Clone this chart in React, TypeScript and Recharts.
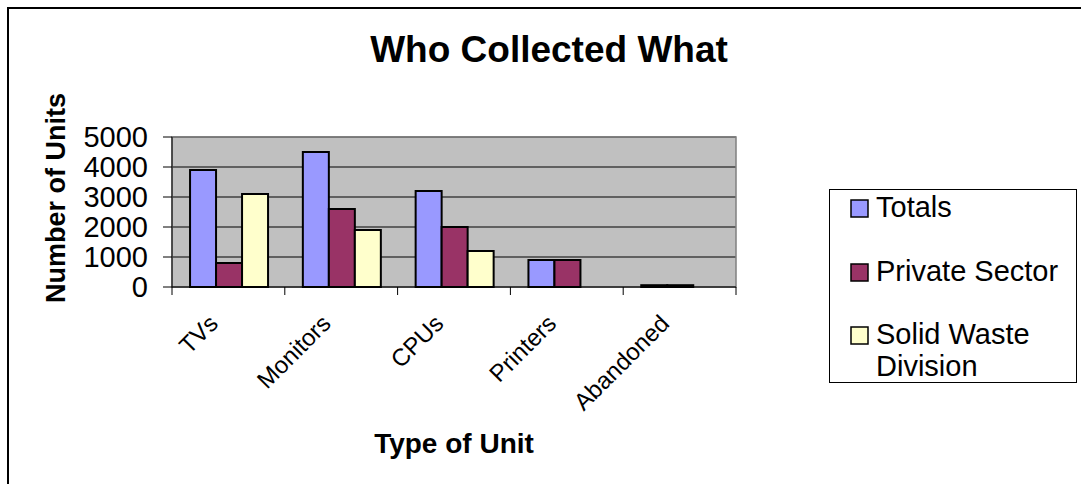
import React from 'react';
import { BarChart, Bar, XAxis, YAxis, CartesianGrid, Legend, ReferenceArea } from 'recharts';

const CATEGORIES = ['TVs', 'Monitors', 'CPUs', 'Printers', 'Abandoned'];
const TOTALS = [3900, 4500, 3200, 900, 60];
const PRIVATE_SECTOR = [800, 2600, 2000, 900, 60];
const SOLID_WASTE = [3100, 1900, 1200, 0, 0];
const Y_TICKS = [0, 1000, 2000, 3000, 4000, 5000];

const SERIES = [
  { key: 'totals', name: 'Totals', color: '#9999FF' },
  { key: 'privateSector', name: 'Private Sector', color: '#993366' },
  { key: 'solidWaste', name: 'Solid Waste Division', color: '#FFFFCC' },
];

const data = CATEGORIES.map((c, i) => ({
  category: c,
  totals: TOTALS[i],
  privateSector: PRIVATE_SECTOR[i],
  solidWaste: SOLID_WASTE[i],
}));

const FONT = '"Liberation Sans", Arial, sans-serif';
const W = 1081;
const H = 484;
const MARGIN = { top: 137, right: 345, left: 92, bottom: 97 };
const Y_AXIS_W = 80;
const X_AXIS_H = 100;
const PLOT_W = W - MARGIN.left - MARGIN.right - Y_AXIS_W;
const BAND = PLOT_W / CATEGORIES.length;

const XTick = (props: any) => {
  const { x, y, payload, index } = props;
  const half = BAND / 2;
  const ax = x - 9;
  const ay = y + 38;
  return (
    <g>
      <line x1={x - half} y1={y} x2={x - half} y2={y + 8} stroke="#000" strokeWidth={1} />
      {index === CATEGORIES.length - 1 && (
        <line x1={x + half} y1={y} x2={x + half} y2={y + 8} stroke="#000" strokeWidth={1} />
      )}
      <text
        x={ax}
        y={ay}
        textAnchor="end"
        transform={`rotate(-45, ${ax}, ${ay})`}
        fontFamily={FONT}
        fontSize={24}
        fill="#000"
      >
        {payload.value}
      </text>
    </g>
  );
};

const YTick = (props: any) => {
  const { y, payload } = props;
  return (
    <text x={148} y={y} dy="0.36em" textAnchor="end" fontFamily={FONT} fontSize={29} fill="#000">
      {payload.value}
    </text>
  );
};

const LegendContent = () => {
  const rows = [
    { s: SERIES[0], lines: ['Totals'], base: 28 },
    { s: SERIES[1], lines: ['Private Sector'], base: 92 },
    { s: SERIES[2], lines: ['Solid Waste', 'Division'], base: 155 },
  ];
  return (
    <svg width={248} height={194} style={{ display: 'block' }}>
      <rect x={0.5} y={0.5} width={247} height={193} fill="#fff" stroke="#000" strokeWidth={1} />
      {rows.map((r) => (
        <g key={r.s.key}>
          <rect x={22} y={r.base - 17} width={17} height={17} fill={r.s.color} stroke="#000" strokeWidth={1.5} />
          {r.lines.map((ln, j) => (
            <text key={j} x={47} y={r.base + j * 32} fontFamily={FONT} fontSize={29} fill="#000">
              {ln}
            </text>
          ))}
        </g>
      ))}
    </svg>
  );
};

export default function App() {
  return (
    <div style={{ position: 'fixed', left: 0, top: 0, width: W, height: H, background: '#fff', overflow: 'hidden' }}>
      <BarChart
        width={W}
        height={H}
        data={data}
        margin={MARGIN}
        barGap={0}
        barCategoryGap="16%"
      >
        <CartesianGrid vertical={false} stroke="#000" strokeWidth={1} fill="#C0C0C0" fillOpacity={1} />
        <ReferenceArea y1={0} y2={5000} fill="none" stroke="#808080" strokeWidth={1.5} ifOverflow="visible" />
        <XAxis
          dataKey="category"
          height={X_AXIS_H}
          tickLine={false}
          tickSize={0}
          tickMargin={0}
          axisLine={{ stroke: '#000', strokeWidth: 1 }}
          tick={<XTick />}
          interval={0}
        />
        <YAxis
          width={Y_AXIS_W}
          domain={[0, 5000]}
          ticks={Y_TICKS}
          tickSize={9}
          tickLine={{ stroke: '#000', strokeWidth: 1 }}
          axisLine={{ stroke: '#000', strokeWidth: 1 }}
          tick={<YTick />}
          interval={0}
        />
        {SERIES.map((s) => (
          <Bar
            key={s.key}
            dataKey={s.key}
            name={s.name}
            fill={s.color}
            stroke="#000"
            strokeWidth={2}
            isAnimationActive={false}
          />
        ))}
        <Legend
          layout="vertical"
          align="center"
          verticalAlign="middle"
          wrapperStyle={{ left: 829, top: 189, width: 248, height: 194 }}
          content={<LegendContent />}
        />
      </BarChart>
      <svg width={W} height={H} style={{ position: 'absolute', left: 0, top: 0, pointerEvents: 'none' }}>
        <rect x={8} y={8} width={W + 20} height={H + 20} fill="none" stroke="#000" strokeWidth={2} />
        <text x={549} y={62} textAnchor="middle" fontFamily={FONT} fontWeight="bold" fontSize={37} fill="#000">
          Who Collected What
        </text>
        <text
          transform="translate(65, 198) rotate(-90)"
          textAnchor="middle"
          fontFamily={FONT}
          fontWeight="bold"
          fontSize={27}
          fill="#000"
        >
          Number of Units
        </text>
        <text x={454} y={453} textAnchor="middle" fontFamily={FONT} fontWeight="bold" fontSize={28} fill="#000">
          Type of Unit
        </text>
      </svg>
    </div>
  );
}
